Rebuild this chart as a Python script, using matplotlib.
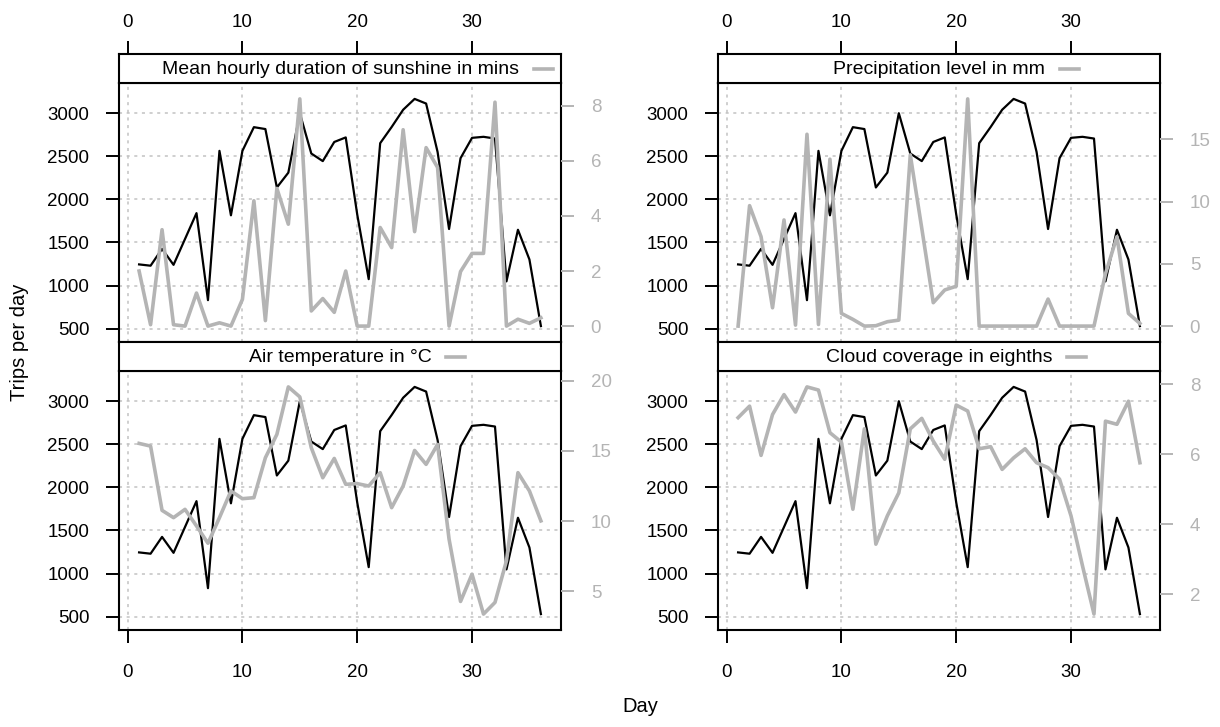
import matplotlib
matplotlib.use("Agg")
import matplotlib.pyplot as plt
from matplotlib.lines import Line2D
from matplotlib.transforms import IdentityTransform

plt.rcParams['font.family'] = ['Liberation Sans', 'DejaVu Sans']

# --- data ---
days = list(range(1, 37))
trips = [1245, 1230, 1425, 1240, 1540, 1840, 830, 2563, 1815, 2563, 2838, 2816,
         2138, 2310, 3000, 2532, 2444, 2666, 2719, 1825, 1074, 2652, 2840, 3040,
         3166, 3112, 2550, 1656, 2478, 2714, 2726, 2706, 1048, 1647, 1302, 529]
sunshine = [2.0, 0.05, 3.5, 0.05, 0.0, 1.2, 0.0, 0.12, 0.0, 0.97, 4.55, 0.2,
            5.0, 3.7, 8.25, 0.55, 1.0, 0.5, 2.0, 0.0, 0.0, 3.58, 2.85, 7.13,
            3.43, 6.48, 5.76, 0.0, 1.98, 2.64, 2.64, 8.13, 0.0, 0.25, 0.1, 0.3]
precip = [0.0, 9.67, 7.18, 1.47, 8.52, 0.08, 15.4, 0.13, 13.4, 1.02, 0.54, 0.0,
          0.03, 0.35, 0.48, 13.74, 7.85, 1.88, 2.9, 3.2, 18.24, 0.0, 0.0, 0.0,
          0.0, 0.0, 0.0, 2.17, 0.0, 0.0, 0.0, 0.0, 4.2, 7.18, 1.02, 0.21]
temp = [15.53, 15.34, 10.77, 10.25, 10.84, 9.66, 8.43, 10.25, 12.15, 11.6, 11.67, 14.51,
        16.17, 19.55, 18.84, 15.22, 13.09, 14.46, 12.62, 12.67, 12.5, 13.45, 10.96, 12.5,
        15.03, 14.04, 15.46, 8.72, 4.29, 6.23, 3.39, 4.22, 7.18, 13.45, 12.15, 10.02]
cloud = [7.05, 7.38, 5.97, 7.14, 7.71, 7.21, 7.93, 7.84, 6.62, 6.35, 4.43, 6.73,
         3.43, 4.24, 4.9, 6.73, 7.03, 6.38, 5.86, 7.41, 7.24, 6.16, 6.22, 5.57,
         5.9, 6.16, 5.76, 5.62, 5.29, 4.24, 2.81, 1.43, 6.95, 6.86, 7.52, 5.76]

titles = ["Mean hourly duration of sunshine in mins", "Precipitation level in mm",
          "Air temperature in °C", "Cloud coverage in eighths"]
weather = [sunshine, precip, temp, cloud]
weather_ticks = [[0, 2, 4, 6, 8], [0, 5, 10, 15], [5, 10, 15, 20], [2, 4, 6, 8]]
trip_ticks = [500, 1000, 1500, 2000, 2500, 3000]
day_ticks = [0, 10, 20, 30]

GREY = "#b4b4b4"
W, H = 1220, 727
fig = plt.figure(figsize=(W / 100, H / 100), dpi=100)


def frac(x, y, w, h):
    # pixel box (top-left origin) -> figure fraction
    return [x / W, 1 - (y + h) / H, w / W, h / H]


ytick_kw = dict(length=9.4, width=1.4, pad=12, labelsize=13.5)
xtick_kw = dict(length=9.4, width=1.4, pad=15, labelsize=13.5)
top_kw = dict(length=9.4, width=1.4, pad=7, labelsize=13.5)
strips = []
for i, (title, series, wt) in enumerate(zip(titles, weather, weather_ticks)):
    col, row = i % 2, i // 2
    x0 = [119, 718][col]
    top = [83, 371][row]

    ax = fig.add_axes(frac(x0, top, 442, 259))
    ax.plot(days, trips, color="black", lw=1.6)
    ax.margins(0.07)
    ax.set_xticks(day_ticks)
    ax.set_yticks(trip_ticks)
    ax.grid(True, color="#c2c2c2", ls=(0, (2, 3)), lw=1.1)
    ax.tick_params(axis="y", left=True, right=False, **ytick_kw)
    ax.tick_params(axis="x", top=False, bottom=(row == 1), labelbottom=(row == 1), **xtick_kw)
    for sp in ax.spines.values():
        sp.set_linewidth(1.5)

    ax2 = ax.twinx()
    ax2.plot(days, series, color=GREY, lw=2.6)
    ax2.margins(y=0.07)
    ax2.set_yticks(wt)
    ax2.tick_params(axis="y", colors=GREY, **ytick_kw)
    for sp in ax2.spines.values():
        sp.set_visible(False)

    sax = fig.add_axes(frac(x0, top - 29, 442, 29))
    sax.set_xlim(ax.get_xlim())
    sax.set_yticks([])
    if row == 0:
        sax.xaxis.tick_top()
        sax.set_xticks(day_ticks)
        sax.tick_params(axis="x", **top_kw)
    else:
        sax.set_xticks([])
    for sp in sax.spines.values():
        sp.set_linewidth(1.5)
    t = sax.text(0.5, 0.47, title, transform=sax.transAxes, ha="center", va="center", fontsize=14)
    strips.append(t)

fig.text(20 / W, 1 - 342 / H, "Trips per day", rotation=90, ha="center", va="center", fontsize=14.5)
fig.text(640 / W, 1 - 706 / H, "Day", ha="center", va="center", fontsize=14.5)

# short grey key line after each strip title
fig.canvas.draw()
r = fig.canvas.get_renderer()
for t in strips:
    bb = t.get_window_extent(r)
    ym = (bb.y0 + bb.y1) / 2
    fig.add_artist(Line2D([bb.x1 + 15, bb.x1 + 34], [ym, ym], color=GREY, lw=2.6,
                          transform=IdentityTransform()))

fig.savefig("out.png", dpi=100)
